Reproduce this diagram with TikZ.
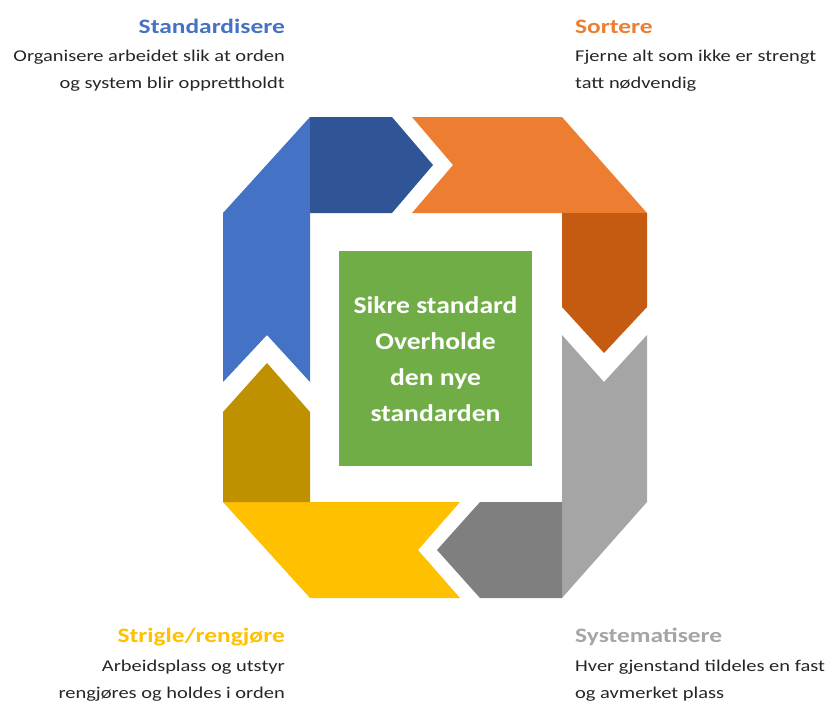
\documentclass[tikz,border=0pt]{standalone}
\usepackage{fontspec}
\setmainfont{Carlito}[FakeStretch=1.24]
\newfontfamily\centerfont{Carlito}[FakeStretch=1.15]
\definecolor{cblue}{HTML}{4472C4}
\definecolor{cdblue}{HTML}{2F5597}
\definecolor{corange}{HTML}{ED7D31}
\definecolor{cdorange}{HTML}{C55A11}
\definecolor{cgray}{HTML}{A5A5A5}
\definecolor{cdgray}{HTML}{7F7F7F}
\definecolor{cyellow}{HTML}{FFC000}
\definecolor{cdyellow}{HTML}{BF9000}
\definecolor{cgreen}{HTML}{70AD47}
\definecolor{ctext}{HTML}{262626}
\begin{document}
\begin{tikzpicture}[x=1pt,y=-1pt,
  title/.style={font=\fontsize{20.5}{24}\selectfont\bfseries, inner sep=0pt},
  body/.style={font=\fontsize{16.5}{28}\selectfont, text=ctext, inner sep=0pt},
  ctext/.style={font=\centerfont\fontsize{24}{30}\selectfont\bfseries, text=white, anchor=base, inner sep=0pt},
]
\useasboundingbox (0,0) rectangle (833,704);
% Standardisere (blue)
\fill[cblue] (223,213) -- (310,117) -- (310,382) -- (267,335) -- (223,382) -- cycle;
\fill[cdblue] (310,117) -- (392,117) -- (433,165) -- (392,213) -- (310,213) -- cycle;
% Sortere (orange)
\fill[corange] (412,117) -- (562,117) -- (647,213) -- (412,213) -- (453,165) -- cycle;
\fill[cdorange] (562,213) -- (647,213) -- (647,307) -- (604,353) -- (562,307) -- cycle;
% Systematisere (gray)
\fill[cgray] (562,335) -- (604,382) -- (647,335) -- (647,502) -- (562,598) -- cycle;
\fill[cdgray] (562,502) -- (480,502) -- (437,550) -- (480,598) -- (562,598) -- cycle;
% Strigle (yellow)
\fill[cyellow] (223,502) -- (460,502) -- (418,550) -- (460,598) -- (310,598) -- cycle;
\fill[cdyellow] (223,412) -- (267,363) -- (310,412) -- (310,502) -- (223,502) -- cycle;
% center
\fill[cgreen] (339,251) rectangle (532,466);
\node[ctext] (c1) at (435.5,313) {Sikre standard};
\node[ctext] (c2) at (435.5,349) {Overholde};
\node[ctext] (c3) at (435.5,385) {den nye};
\node[ctext] (c4) at (435.5,421) {standarden};
% labels
\node[title, text=cblue, anchor=base east] (t1) at (285,33) {Standardisere};
\node[body, anchor=base east] (b1a) at (285,61) {Organisere arbeidet slik at orden};
\node[body, anchor=base east] (b1b) at (285,88) {og system blir opprettholdt};
\node[title, text=corange, anchor=base west] (t2) at (575,33) {Sortere};
\node[body, anchor=base west] (b2a) at (575,61) {Fjerne alt som ikke er strengt};
\node[body, anchor=base west] (b2b) at (575,88) {tatt nødvendig};
\node[title, text=cyellow, anchor=base east] (t3) at (285,642) {Strigle/rengjøre};
\node[body, anchor=base east] (b3a) at (285,671) {Arbeidsplass og utstyr};
\node[body, anchor=base east] (b3b) at (285,698) {rengjøres og holdes i orden};
\node[title, text=cgray, anchor=base west] (t4) at (575,642) {Systematisere};
\node[body, anchor=base west] (b4a) at (575,671) {Hver gjenstand tildeles en fast};
\node[body, anchor=base west] (b4b) at (575,698) {og avmerket plass};
\end{tikzpicture}
\end{document}
